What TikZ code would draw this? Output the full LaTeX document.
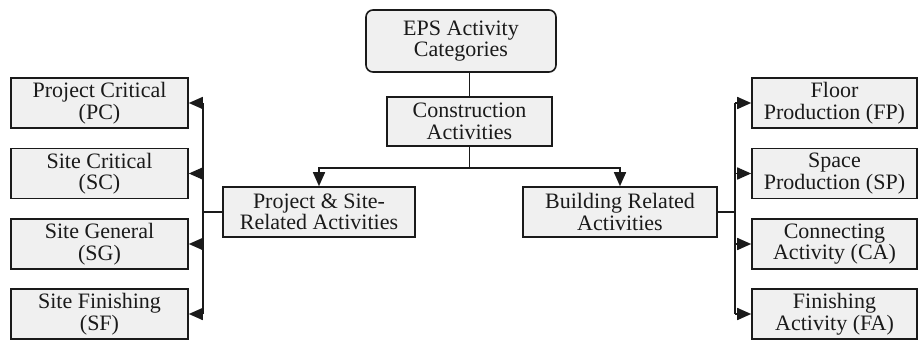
\documentclass[tikz,border=0pt]{standalone}
\usepackage{fontspec}
\setmainfont{Liberation Serif}
\usetikzlibrary{arrows.meta}
\definecolor{boxfill}{HTML}{F0F0F0}
\definecolor{ink}{HTML}{1A1A1A}
\begin{document}
\begin{tikzpicture}[x=1pt,y=-1pt,
  box/.style={draw=ink, fill=boxfill, line width=1.6pt, align=center, inner sep=0pt,
    font=\fontsize{22}{21.5}\selectfont, text=ink},
  leaf/.style={box, minimum width=177pt, minimum height=50pt},
  rleaf/.style={box, minimum width=165pt, minimum height=50pt},
  link/.style={draw=ink, line width=1.6pt},
  arr/.style={link, -{Triangle[length=14pt,width=12pt]}}]
\useasboundingbox (0,0) rectangle (919,340);

% root and first level
\node[box, rounded corners=7pt, minimum width=190pt, minimum height=62pt] (root) at (461,41) {EPS Activity\\Categories};
\node[box, minimum width=165pt, minimum height=49pt] (cons) at (469.5,121.5) {Construction\\Activities};
\node[box, minimum width=192pt, minimum height=50pt] (ps) at (319,212) {Project \& Site-\\Related Activities};
\node[box, minimum width=194pt, minimum height=50pt] (br) at (620,212) {Building Related\\Activities};

% left column
\node[leaf] (pc) at (99.5,103) {Project Critical\\(PC)};
\node[leaf] (sc) at (99.5,173.5) {Site Critical\\(SC)};
\node[leaf] (sg) at (99.5,244) {Site General\\(SG)};
\node[leaf] (sf) at (99.5,314) {Site Finishing\\(SF)};

% right column
\node[rleaf] (fp) at (834.5,103) {Floor\\Production (FP)};
\node[rleaf] (sp) at (834.5,173.5) {Space\\Production (SP)};
\node[rleaf] (ca) at (834.5,244) {Connecting\\Activity (CA)};
\node[rleaf] (fa) at (834.5,314) {Finishing\\Activity (FA)};

% connectors
\draw[link] (cons.north) -- (cons.north |- root.south);
\draw[link] (cons.south) -- ++(0,21) coordinate (split);
\draw[arr] (split) -| (ps.north);
\draw[arr] (split) -| (br.north);

\draw[link] (ps.west) -- ++(-19,0) coordinate (lspine);
\draw[link] (lspine |- pc.east) -- (lspine |- sf.east);
\foreach \b in {pc,sc,sg,sf}
  \draw[arr] (lspine |- \b.east) -- (\b.east);

\draw[link] (br.east) -- ++(17,0) coordinate (rspine);
\draw[link] (rspine |- fp.west) -- (rspine |- fa.west);
\foreach \b in {fp,sp,ca,fa}
  \draw[arr] (rspine |- \b.west) -- (\b.west);
\end{tikzpicture}
\end{document}
